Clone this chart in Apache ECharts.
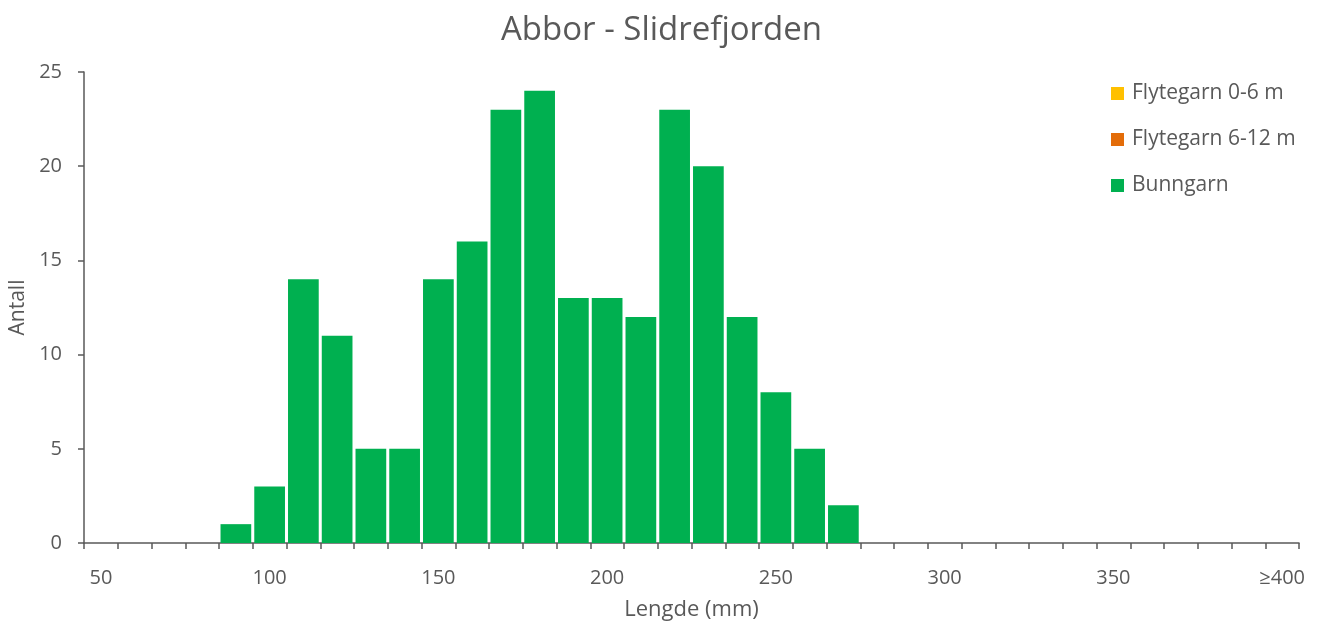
<!DOCTYPE html>
<html lang="no">
<head>
    <meta charset="UTF-8">
    <title>Abbor - Slidrefjorden</title>
    <script src="https://cdn.jsdelivr.net/npm/echarts@6/dist/echarts.min.js"></script>
    <style>
        html, body { margin: 0; padding: 0; background: #fff; }
        #main { width: 1323px; height: 624px; }
    </style>
</head>
<body>
    <div id="main"></div>
    <script>
    // lengdeklasser (mm), 10 mm brede, siste klasse er >=400
    var categories = ['50', '60', '70', '80', '90', '100', '110', '120', '130', '140', '150', '160',
        '170', '180', '190', '200', '210', '220', '230', '240', '250', '260', '270', '280',
        '290', '300', '310', '320', '330', '340', '350', '360', '370', '380', '390', '≥400'];
    var flyte06 = [0, 0, 0, 0, 0, 0, 0, 0, 0, 0, 0, 0, 0, 0, 0, 0, 0, 0,
        0, 0, 0, 0, 0, 0, 0, 0, 0, 0, 0, 0, 0, 0, 0, 0, 0, 0];
    var flyte612 = [0, 0, 0, 0, 0, 0, 0, 0, 0, 0, 0, 0, 0, 0, 0, 0, 0, 0,
        0, 0, 0, 0, 0, 0, 0, 0, 0, 0, 0, 0, 0, 0, 0, 0, 0, 0];
    var bunngarn = [0, 0, 0, 0, 1, 3, 14, 11, 5, 5, 14, 16, 23, 24, 13, 13, 12, 23,
        20, 12, 8, 5, 2, 0, 0, 0, 0, 0, 0, 0, 0, 0, 0, 0, 0, 0];

    var font = 'Open Sans';
    var grey = '#595959';
    var chart = echarts.init(document.getElementById('main'));

    chart.setOption({
        title: {
            text: 'Abbor - Slidrefjorden',
            left: 'center',
            top: 9,
            textStyle: { fontFamily: font, fontSize: 33, fontWeight: 'normal', color: grey }
        },
        legend: {
            orient: 'vertical',
            left: 1106,
            top: 78,
            itemWidth: 13,
            itemHeight: 13,
            itemGap: 25,
            icon: 'rect',
            textStyle: { fontFamily: font, fontSize: 21, color: grey, padding: [0, 0, 0, 3] }
        },
        grid: { left: 84, right: 24, top: 72, bottom: 81, outerBoundsMode: 'none' },
        xAxis: {
            type: 'category',
            data: categories,
            boundaryGap: true,
            name: 'Lengde (mm)',
            nameLocation: 'middle',
            nameGap: 56,
            nameTextStyle: { fontFamily: font, fontSize: 22, color: grey },
            axisLine: { show: true, lineStyle: { color: grey, width: 1.5 } },
            axisTick: { show: true, length: 6, interval: 0, lineStyle: { color: grey, width: 1.5 } },
            axisLabel: { fontFamily: font, fontSize: 20, color: grey, margin: 25, interval: 4 }
        },
        yAxis: {
            type: 'value',
            min: 0,
            max: 25,
            interval: 5,
            name: 'Antall',
            nameLocation: 'middle',
            nameGap: 50,
            nameTextStyle: { fontFamily: font, fontSize: 21, color: grey },
            splitLine: { show: false },
            axisLine: { show: true, lineStyle: { color: grey, width: 1.5 } },
            axisTick: { show: true, length: 6, lineStyle: { color: grey, width: 1.5 } },
            axisLabel: { fontFamily: font, fontSize: 20, color: grey, margin: 22 }
        },
        series: [
            { name: 'Flytegarn 0-6 m', type: 'bar', stack: 'a', barCategoryGap: '9%', itemStyle: { color: '#FFC000' }, data: flyte06 },
            { name: 'Flytegarn 6-12 m', type: 'bar', stack: 'a', barCategoryGap: '9%', itemStyle: { color: '#E36C09' }, data: flyte612 },
            { name: 'Bunngarn', type: 'bar', stack: 'a', barCategoryGap: '9%', itemStyle: { color: '#00B050' }, data: bunngarn }
        ]
    });
    </script>
</body>
</html>
